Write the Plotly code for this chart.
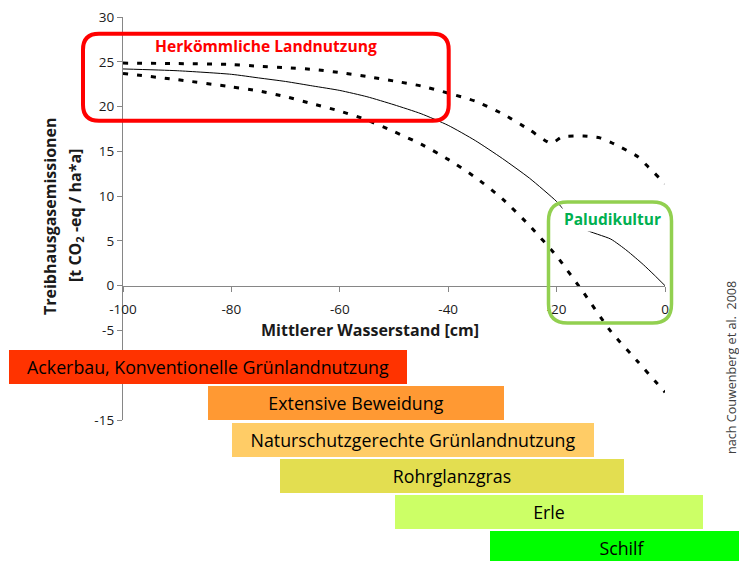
import plotly.graph_objects as go

# ---------------- data ----------------
mid_x = [-100, -90, -80, -75, -70, -65, -60, -55, -50, -45, -40, -35, -30, -25, -20, -19, -15, -10, -7, -4, -2, 0]
mid_y = [24.2, 24.0, 23.6, 23.2, 22.8, 22.3, 21.8, 21.1, 20.2, 19.2, 17.9, 16.2, 14.2, 12.0, 9.4, 8.7, 6.35, 5.2, 3.9, 2.35, 1.2, 0.0]

up_x = [-100, -90, -80, -75, -70, -65, -60, -55, -50, -45, -40, -35, -30, -25, -21, -19, -15, -12, -10, -8, -5, -3, -1, 0]
up_y = [24.85, 24.8, 24.7, 24.5, 24.35, 24.15, 23.8, 23.35, 22.85, 22.3, 21.5, 20.6, 19.2, 17.4, 15.9, 16.6, 16.7, 16.5, 16.0, 15.4, 14.4, 13.2, 12.0, 11.4]

lo_x = [-100, -90, -80, -75, -70, -65, -60, -55, -50, -45, -40, -35, -30, -25, -20, -15, -10, -5, 0]
lo_y = [23.7, 23.0, 22.2, 21.75, 21.1, 20.3, 19.5, 18.5, 17.2, 15.8, 14.1, 12.1, 9.7, 6.7, 3.3, -0.8, -5.1, -8.5, -11.9]

landuse = ["Ackerbau, Konventionelle Grünlandnutzung", "Extensive Beweidung",
           "Naturschutzgerechte Grünlandnutzung", "Rohrglanzgras", "Erle", "Schilf"]
land_from = [-121.0, -84.3, -79.9, -71.0, -49.8, -32.3]
land_to = [-47.6, -29.7, -13.1, -7.6, 7.0, 16.5]
land_colors = ["#FF3300", "#FF9933", "#FFCC66", "#E3DE50", "#CCFF66", "#00FF00"]

x_ticks = [-100, -80, -60, -40, -20, 0]
x_tick_labels = ["-100", "-80", "-60", "-40", "-20", "0"]
y_ticks = [-15, -10, -5, 0, 5, 10, 15, 20, 25, 30]
y_tick_labels = ["-15", "", "-5", "0", "5", "10", "15", "20", "25", "30"]  # -10 is hidden behind the first bar

# ---------------- layout helpers ----------------
W, H = 747, 561
OFF = 8  # page body margin of the html page
def px(x):
    return (x - OFF) / W
def py(y):
    return 1 - (y - OFF) / H

def rrect(x0, y0, x1, y1, r):
    pts = [
        ("M", [(x0 + r, y0)]), ("L", [(x1 - r, y0)]), ("Q", [(x1, y0), (x1, y0 + r)]),
        ("L", [(x1, y1 - r)]), ("Q", [(x1, y1), (x1 - r, y1)]), ("L", [(x0 + r, y1)]),
        ("Q", [(x0, y1), (x0, y1 - r)]), ("L", [(x0, y0 + r)]), ("Q", [(x0, y0), (x0 + r, y0)]),
    ]
    s = ""
    for cmd, ps in pts:
        s += cmd + " " + " ".join(f"{px(a):.5f},{py(b):.5f}" for a, b in ps) + " "
    return s + "Z"

FONT = "Open Sans"
plot_left, plot_right, plot_top, plot_bottom = 123, 665, 17, 420
ydom = [py(plot_bottom), py(plot_top)]
xdom = [px(plot_left), px(plot_right)]
y0_paper = ydom[0] + (0 - (-15)) / 45 * (ydom[1] - ydom[0])

scale = (plot_right - plot_left) / 100.0
x2_range = [-100 - (plot_left - OFF) / scale, -100 + (W + OFF - plot_left) / scale]

pitch = 36.2
bar_top = 348.9
y2_dom = [0, py(bar_top)]
y2_range = [(H + OFF - bar_top) / pitch - 0.5, -0.5]

fig = go.Figure()

fig.add_trace(go.Scatter(x=up_x, y=up_y, mode="lines", line=dict(color="black", width=3, dash="5px,9px", shape="spline", smoothing=0.6), hoverinfo="skip"))
fig.add_trace(go.Scatter(x=lo_x, y=lo_y, mode="lines", line=dict(color="black", width=3, dash="5px,9px", shape="spline", smoothing=0.6), hoverinfo="skip"))
fig.add_trace(go.Scatter(x=mid_x, y=mid_y, mode="lines", line=dict(color="black", width=1, shape="spline", smoothing=0.6), hoverinfo="skip"))

fig.add_trace(go.Bar(
    y=list(range(len(landuse))), x=[b - a for a, b in zip(land_from, land_to)], base=land_from,
    orientation="h", xaxis="x2", yaxis="y2", width=34 / pitch,
    marker=dict(color=land_colors, line=dict(width=0)),
    text=landuse, textposition="inside", insidetextanchor="middle", textangle=0,
    textfont=dict(family=FONT, size=17.8, color="black"), hoverinfo="skip"))

fig.update_layout(
    width=W, height=H, margin=dict(l=0, r=0, t=0, b=0, autoexpand=False),
    paper_bgcolor="white", plot_bgcolor="rgba(0,0,0,0)", showlegend=False,
    font=dict(family=FONT, color="#1a1a1a"),
    xaxis=dict(domain=xdom, range=[-100, 0], anchor="free", position=y0_paper, automargin=False,
               showline=True, linecolor="#868686", linewidth=1.3, ticks="outside", ticklen=5,
               tickcolor="#868686", tickvals=x_ticks, ticktext=x_tick_labels, showgrid=False, zeroline=False,
               tickfont=dict(size=13.5, color="#1a1a1a"), ticklabelstandoff=6, ticklabeloverflow="allow"),
    yaxis=dict(domain=ydom, range=[-15, 30], anchor="x", showline=True, linecolor="#868686",
               automargin=False, ticklabeloverflow="allow",
               linewidth=1.3, ticks="outside", ticklen=5, tickcolor="#868686", tickvals=y_ticks,
               ticktext=y_tick_labels,
               showgrid=False, zeroline=False, tickfont=dict(size=13.5, color="#1a1a1a")),
    xaxis2=dict(domain=[0, 1], range=x2_range, anchor="y2", visible=False, automargin=False),
    yaxis2=dict(domain=y2_dom, range=y2_range, anchor="x2", visible=False, automargin=False),
    bargap=0,
)

shapes = [
    dict(type="path", path=rrect(83, 33.7, 448.7, 120.7, 16), xref="paper", yref="paper",
         line=dict(color="#FF0000", width=4), layer="above"),
    dict(type="path", path=rrect(548.5, 202, 671.5, 323, 19), xref="paper", yref="paper",
         line=dict(color="#92D050", width=3.5), layer="above"),
]
fig.update_layout(shapes=shapes)

def A(x, y, text, size, color, angle=0, bg=None):
    d = dict(x=px(x), y=py(y), xref="paper", yref="paper", text=text, showarrow=False,
             font=dict(family=FONT, size=size, color=color), xanchor="center", yanchor="middle",
             textangle=angle)
    if bg:
        d["bgcolor"] = bg
    return d

ann = [
    A(266, 45.5, "<b>Herkömmliche Landnutzung</b>", 15.6, "#FF0000"),
    A(612.5, 218.5, "<b>Paludikultur</b>", 15.5, "#00B050", bg="white"),
    A(370, 330, "<b>Mittlerer Wasserstand [cm]</b>", 16, "#1a1a1a"),
    A(50, 216, "<b>Treibhausgasemissionen</b>", 16, "#1a1a1a", angle=-90),
    A(75, 216, "<b>[t CO<sub>2</sub> -eq / ha*a]</b>", 16, "#1a1a1a", angle=-90),
    A(731, 368, "nach Couwenberg et al.  2008", 12.6, "#404040", angle=-90),
]
fig.update_layout(annotations=ann)

fig.write_html("out.html")
